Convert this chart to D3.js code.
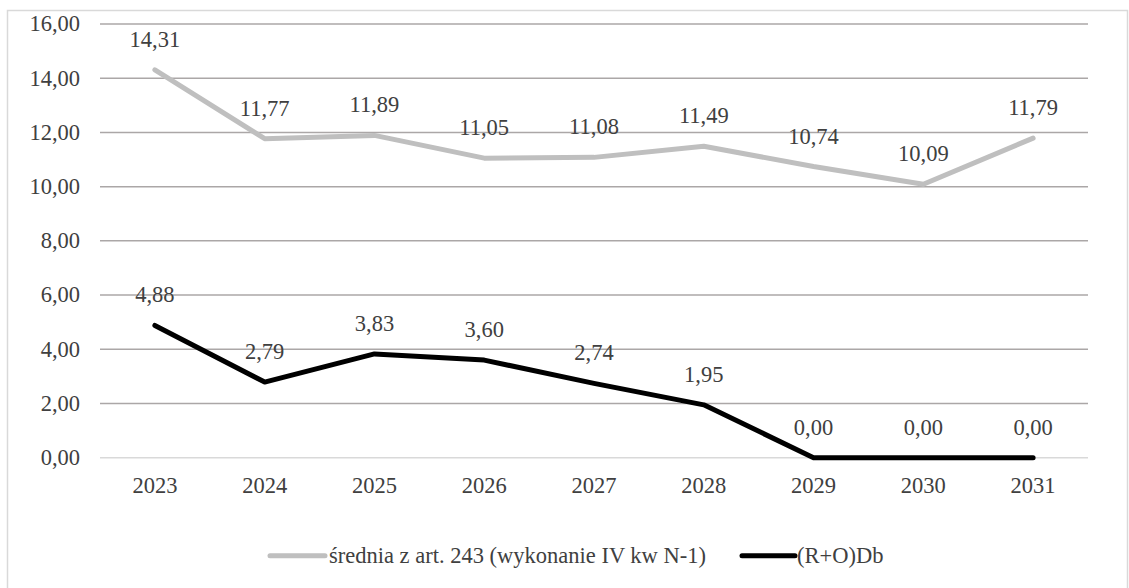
<!DOCTYPE html>
<html><head><meta charset="utf-8">
<script src="https://cdn.jsdelivr.net/npm/d3@7"></script>
<style>body{margin:0;background:#fff}svg{display:block}</style>
</head><body>
<svg id="c" width="1129" height="588"></svg>
<script>
const years = ["2023","2024","2025","2026","2027","2028","2029","2030","2031"];
const sredniaValues = [14.31,11.77,11.89,11.05,11.08,11.49,10.74,10.09,11.79];
const rodbValues = [4.88,2.79,3.83,3.60,2.74,1.95,0.00,0.00,0.00];
const yTicks = [0,2,4,6,8,10,12,14,16];
const seriesNames = ["średnia z art. 243 (wykonanie IV kw N-1)","(R+O)Db"];

const svg = d3.select("#c");
const fs = 22.5;
const FONT = "'Liberation Serif', 'Times New Roman', serif";
const TXT = "#404040";
const fmt = v => v.toFixed(2).replace(".", ",");
const txt = sel => sel.style("font-family", FONT).attr("fill", TXT).attr("font-size", fs);

svg.append("rect").attr("x",7.5).attr("y",10.5).attr("width",1120).attr("height",600)
  .attr("fill","none").attr("stroke","#d9d9d9").attr("stroke-width",1.5);

const x = d3.scaleBand().domain(years).range([100,1088]);
const y = d3.scaleLinear().domain([0,16]).range([457.7,24]);

const g = svg.append("g");
g.selectAll("line.grid").data(yTicks).enter().append("line")
  .attr("x1",100).attr("x2",1088).attr("y1",d=>y(d)).attr("y2",d=>y(d))
  .attr("stroke",d=>d===0?"#d9d9d9":"#aba7a7").attr("stroke-width",1.5);

g.selectAll("text.yt").data(yTicks).enter().append("text")
  .attr("x",80).attr("y",d=>y(d)).attr("dy","0.33em").attr("text-anchor","end")
  .call(txt).text(d=>fmt(d));

g.selectAll("text.xt").data(years).enter().append("text")
  .attr("x",d=>x(d)+x.bandwidth()/2).attr("y",y(0)+28).attr("dy","0.33em")
  .attr("text-anchor","middle").call(txt).text(d=>d);

const cx = d => x(d)+x.bandwidth()/2;
const series = [
  {vals: sredniaValues, color:"#bfbfbf"},
  {vals: rodbValues, color:"#000000"}
];
series.forEach(s=>{
  const line = d3.line().x((d,i)=>cx(years[i])).y(d=>y(d));
  g.append("path").datum(s.vals).attr("d",line).attr("fill","none")
    .attr("stroke",s.color).attr("stroke-width",5).attr("stroke-linecap","round").attr("stroke-linejoin","round");
  g.selectAll(null).data(s.vals).enter().append("text")
    .attr("x",(d,i)=>cx(years[i])).attr("y",d=>y(d)-23)
    .attr("text-anchor","middle").call(txt).text(d=>fmt(d));
});

const leg = [
  {name: seriesNames[0], color:"#bfbfbf", x1:270, x2:325, tx:329},
  {name: seriesNames[1], color:"#000000", x1:742, x2:795, tx:797}
];
leg.forEach(l=>{
  svg.append("line").attr("x1",l.x1).attr("x2",l.x2).attr("y1",555.7).attr("y2",555.7)
    .attr("stroke",l.color).attr("stroke-width",5).attr("stroke-linecap","round");
  svg.append("text").attr("x",l.tx).attr("y",555.7).attr("dy","0.33em").call(txt).text(l.name);
});
</script>
</body></html>
